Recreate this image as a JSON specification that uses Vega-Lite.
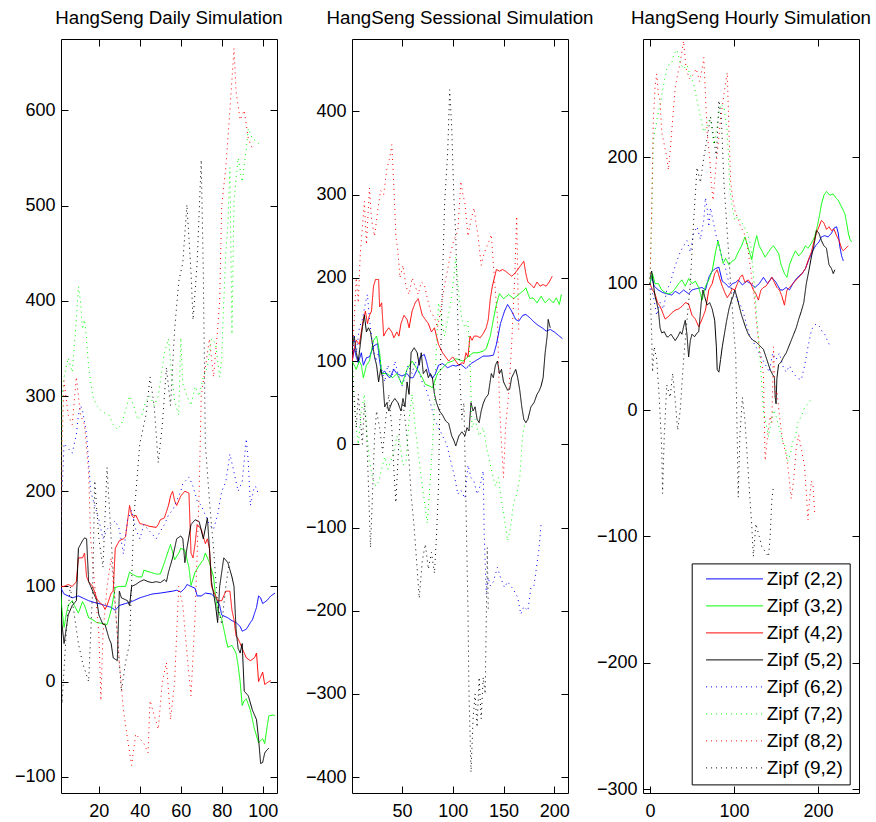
{
"$schema": "https://vega.github.io/schema/vega-lite/v6.json",
"background": "white",
"padding": {"left": 13, "top": 8, "right": 5, "bottom": 5},
"config": {
  "font": "Liberation Sans",
  "view": {"stroke": "black", "strokeWidth": 1},
  "axis": {"grid": false, "domain": false, "tickColor": "black", "tickWidth": 1, "tickSize": -7, "labelPadding": 13, "labelFontSize": 18, "labelColor": "black", "title": null, "labelFont": "Liberation Sans"},
  "axisX": {"labelPadding": 16},
  "title": {"fontSize": 18.7, "fontWeight": "normal", "font": "Liberation Sans", "offset": 11, "baseline": "alphabetic", "color": "black"},
  "legend": {"orient": "none", "legendX": 48.7, "legendY": 524.4, "title": null}
},
"datasets": {
"d": [
{"s":"2","x":1,"y":100},{"s":"2","x":3,"y":92},{"s":"2","x":5,"y":90},{"s":"2","x":7,"y":88},{"s":"2","x":10,"y":90},{"s":"2","x":12,"y":88},{"s":"2","x":15,"y":85},{"s":"2","x":18,"y":83},{"s":"2","x":20,"y":82},{"s":"2","x":23,"y":80},{"s":"2","x":26,"y":78},{"s":"2","x":28,"y":75},{"s":"2","x":30,"y":80},{"s":"2","x":33,"y":82},{"s":"2","x":36,"y":84},{"s":"2","x":40,"y":88},{"s":"2","x":43,"y":90},{"s":"2","x":46,"y":92},{"s":"2","x":50,"y":93},{"s":"2","x":53,"y":94},{"s":"2","x":56,"y":95},{"s":"2","x":58,"y":96},{"s":"2","x":60,"y":94},{"s":"2","x":62,"y":98},{"s":"2","x":63,"y":102},{"s":"2","x":65,"y":100},{"s":"2","x":67,"y":98},{"s":"2","x":68,"y":90},{"s":"2","x":70,"y":90},{"s":"2","x":72,"y":93},{"s":"2","x":75,"y":92},{"s":"2","x":77,"y":88},{"s":"2","x":79,"y":80},{"s":"2","x":80,"y":70},{"s":"2","x":83,"y":67},{"s":"2","x":85,"y":64},{"s":"2","x":87,"y":62},{"s":"2","x":89,"y":58},{"s":"2","x":90,"y":53},{"s":"2","x":92,"y":55},{"s":"2","x":94,"y":62},{"s":"2","x":95,"y":65},{"s":"2","x":97,"y":78},{"s":"2","x":98,"y":90},{"s":"2","x":99,"y":88},{"s":"2","x":100,"y":82},{"s":"2","x":102,"y":85},{"s":"2","x":104,"y":90},{"s":"2","x":106,"y":93},
{"s":"3","x":1,"y":100},{"s":"3","x":2,"y":75},{"s":"3","x":3,"y":57},{"s":"3","x":4,"y":70},{"s":"3","x":5,"y":80},{"s":"3","x":7,"y":85},{"s":"3","x":8,"y":80},{"s":"3","x":10,"y":72},{"s":"3","x":12,"y":84},{"s":"3","x":13,"y":80},{"s":"3","x":15,"y":67},{"s":"3","x":17,"y":65},{"s":"3","x":19,"y":62},{"s":"3","x":22,"y":61},{"s":"3","x":24,"y":60},{"s":"3","x":26,"y":75},{"s":"3","x":28,"y":99},{"s":"3","x":30,"y":100},{"s":"3","x":33,"y":100},{"s":"3","x":35,"y":115},{"s":"3","x":37,"y":112},{"s":"3","x":39,"y":110},{"s":"3","x":41,"y":110},{"s":"3","x":42,"y":117},{"s":"3","x":45,"y":115},{"s":"3","x":48,"y":113},{"s":"3","x":50,"y":113},{"s":"3","x":52,"y":125},{"s":"3","x":54,"y":138},{"s":"3","x":55,"y":144},{"s":"3","x":57,"y":128},{"s":"3","x":59,"y":135},{"s":"3","x":60,"y":140},{"s":"3","x":62,"y":138},{"s":"3","x":64,"y":120},{"s":"3","x":65,"y":101},{"s":"3","x":67,"y":115},{"s":"3","x":69,"y":122},{"s":"3","x":71,"y":128},{"s":"3","x":72,"y":135},{"s":"3","x":74,"y":125},{"s":"3","x":76,"y":110},{"s":"3","x":77,"y":90},{"s":"3","x":78,"y":75},{"s":"3","x":80,"y":66},{"s":"3","x":82,"y":45},{"s":"3","x":83,"y":36},{"s":"3","x":85,"y":38},{"s":"3","x":87,"y":30},{"s":"3","x":88,"y":17},{"s":"3","x":89,"y":0},{"s":"3","x":90,"y":-25},{"s":"3","x":91,"y":-20},{"s":"3","x":92,"y":-18},{"s":"3","x":94,"y":-30},{"s":"3","x":96,"y":-50},{"s":"3","x":98,"y":-64},{"s":"3","x":100,"y":-60},{"s":"3","x":101,"y":-65},{"s":"3","x":102,"y":-50},{"s":"3","x":103,"y":-36},{"s":"3","x":105,"y":-35},{"s":"3","x":106,"y":-36},
{"s":"4","x":1,"y":100},{"s":"4","x":3,"y":100},{"s":"4","x":5,"y":102},{"s":"4","x":7,"y":100},{"s":"4","x":9,"y":105},{"s":"4","x":10,"y":130},{"s":"4","x":12,"y":130},{"s":"4","x":13,"y":135},{"s":"4","x":14,"y":110},{"s":"4","x":15,"y":105},{"s":"4","x":17,"y":100},{"s":"4","x":19,"y":87},{"s":"4","x":20,"y":84},{"s":"4","x":22,"y":80},{"s":"4","x":23,"y":76},{"s":"4","x":24,"y":80},{"s":"4","x":26,"y":93},{"s":"4","x":27,"y":95},{"s":"4","x":28,"y":140},{"s":"4","x":30,"y":148},{"s":"4","x":32,"y":150},{"s":"4","x":33,"y":152},{"s":"4","x":35,"y":185},{"s":"4","x":36,"y":175},{"s":"4","x":37,"y":172},{"s":"4","x":38,"y":175},{"s":"4","x":40,"y":166},{"s":"4","x":42,"y":165},{"s":"4","x":45,"y":163},{"s":"4","x":48,"y":162},{"s":"4","x":49,"y":165},{"s":"4","x":50,"y":170},{"s":"4","x":52,"y":172},{"s":"4","x":54,"y":185},{"s":"4","x":55,"y":195},{"s":"4","x":56,"y":200},{"s":"4","x":57,"y":190},{"s":"4","x":58,"y":185},{"s":"4","x":60,"y":195},{"s":"4","x":62,"y":200},{"s":"4","x":64,"y":198},{"s":"4","x":65,"y":135},{"s":"4","x":66,"y":130},{"s":"4","x":67,"y":145},{"s":"4","x":68,"y":165},{"s":"4","x":70,"y":160},{"s":"4","x":72,"y":145},{"s":"4","x":73,"y":150},{"s":"4","x":74,"y":140},{"s":"4","x":75,"y":100},{"s":"4","x":77,"y":90},{"s":"4","x":78,"y":85},{"s":"4","x":80,"y":85},{"s":"4","x":82,"y":95},{"s":"4","x":84,"y":95},{"s":"4","x":85,"y":75},{"s":"4","x":86,"y":65},{"s":"4","x":87,"y":48},{"s":"4","x":88,"y":45},{"s":"4","x":89,"y":40},{"s":"4","x":90,"y":35},{"s":"4","x":92,"y":25},{"s":"4","x":94,"y":22},{"s":"4","x":96,"y":25},{"s":"4","x":97,"y":30},{"s":"4","x":98,"y":0},{"s":"4","x":99,"y":5},{"s":"4","x":100,"y":10},{"s":"4","x":101,"y":-3},{"s":"4","x":103,"y":0},{"s":"4","x":104,"y":1},
{"s":"5","x":1,"y":90},{"s":"5","x":2,"y":60},{"s":"5","x":3,"y":40},{"s":"5","x":4,"y":55},{"s":"5","x":5,"y":70},{"s":"5","x":7,"y":80},{"s":"5","x":9,"y":85},{"s":"5","x":10,"y":140},{"s":"5","x":12,"y":148},{"s":"5","x":13,"y":151},{"s":"5","x":14,"y":150},{"s":"5","x":15,"y":105},{"s":"5","x":16,"y":100},{"s":"5","x":17,"y":95},{"s":"5","x":19,"y":85},{"s":"5","x":20,"y":70},{"s":"5","x":22,"y":60},{"s":"5","x":23,"y":60},{"s":"5","x":25,"y":45},{"s":"5","x":26,"y":40},{"s":"5","x":27,"y":25},{"s":"5","x":29,"y":22},{"s":"5","x":30,"y":95},{"s":"5","x":31,"y":88},{"s":"5","x":33,"y":86},{"s":"5","x":34,"y":85},{"s":"5","x":35,"y":80},{"s":"5","x":36,"y":100},{"s":"5","x":38,"y":102},{"s":"5","x":40,"y":105},{"s":"5","x":42,"y":107},{"s":"5","x":44,"y":105},{"s":"5","x":46,"y":104},{"s":"5","x":48,"y":105},{"s":"5","x":50,"y":104},{"s":"5","x":52,"y":107},{"s":"5","x":53,"y":105},{"s":"5","x":54,"y":115},{"s":"5","x":56,"y":130},{"s":"5","x":58,"y":150},{"s":"5","x":60,"y":153},{"s":"5","x":61,"y":150},{"s":"5","x":62,"y":125},{"s":"5","x":63,"y":140},{"s":"5","x":65,"y":165},{"s":"5","x":67,"y":170},{"s":"5","x":69,"y":168},{"s":"5","x":71,"y":150},{"s":"5","x":73,"y":172},{"s":"5","x":74,"y":140},{"s":"5","x":75,"y":105},{"s":"5","x":77,"y":80},{"s":"5","x":78,"y":62},{"s":"5","x":79,"y":100},{"s":"5","x":81,"y":130},{"s":"5","x":83,"y":125},{"s":"5","x":85,"y":110},{"s":"5","x":86,"y":100},{"s":"5","x":87,"y":55},{"s":"5","x":88,"y":35},{"s":"5","x":89,"y":30},{"s":"5","x":90,"y":40},{"s":"5","x":91,"y":-10},{"s":"5","x":93,"y":-15},{"s":"5","x":95,"y":-30},{"s":"5","x":97,"y":-40},{"s":"5","x":98,"y":-60},{"s":"5","x":99,"y":-86},{"s":"5","x":100,"y":-85},{"s":"5","x":101,"y":-75},{"s":"5","x":102,"y":-72},{"s":"5","x":103,"y":-70},
{"s":"6","x":1,"y":100},{"s":"6","x":2,"y":200},{"s":"6","x":3,"y":250},{"s":"6","x":5,"y":245},{"s":"6","x":7,"y":240},{"s":"6","x":9,"y":260},{"s":"6","x":10,"y":280},{"s":"6","x":11,"y":290},{"s":"6","x":12,"y":285},{"s":"6","x":14,"y":260},{"s":"6","x":15,"y":230},{"s":"6","x":16,"y":200},{"s":"6","x":18,"y":185},{"s":"6","x":20,"y":170},{"s":"6","x":22,"y":150},{"s":"6","x":24,"y":160},{"s":"6","x":26,"y":165},{"s":"6","x":28,"y":169},{"s":"6","x":30,"y":160},{"s":"6","x":32,"y":134},{"s":"6","x":34,"y":170},{"s":"6","x":36,"y":180},{"s":"6","x":38,"y":160},{"s":"6","x":40,"y":150},{"s":"6","x":42,"y":165},{"s":"6","x":44,"y":160},{"s":"6","x":46,"y":155},{"s":"6","x":48,"y":150},{"s":"6","x":50,"y":158},{"s":"6","x":52,"y":165},{"s":"6","x":54,"y":175},{"s":"6","x":56,"y":180},{"s":"6","x":58,"y":190},{"s":"6","x":60,"y":200},{"s":"6","x":61,"y":208},{"s":"6","x":62,"y":210},{"s":"6","x":64,"y":215},{"s":"6","x":66,"y":205},{"s":"6","x":68,"y":190},{"s":"6","x":70,"y":185},{"s":"6","x":72,"y":175},{"s":"6","x":74,"y":165},{"s":"6","x":76,"y":160},{"s":"6","x":78,"y":175},{"s":"6","x":80,"y":200},{"s":"6","x":82,"y":210},{"s":"6","x":84,"y":239},{"s":"6","x":86,"y":220},{"s":"6","x":88,"y":200},{"s":"6","x":90,"y":210},{"s":"6","x":92,"y":255},{"s":"6","x":93,"y":230},{"s":"6","x":94,"y":185},{"s":"6","x":96,"y":205},{"s":"6","x":97,"y":204},{"s":"6","x":98,"y":195},
{"s":"7","x":1,"y":100},{"s":"7","x":2,"y":300},{"s":"7","x":3,"y":320},{"s":"7","x":5,"y":340},{"s":"7","x":7,"y":325},{"s":"7","x":9,"y":380},{"s":"7","x":10,"y":415},{"s":"7","x":11,"y":400},{"s":"7","x":12,"y":370},{"s":"7","x":13,"y":380},{"s":"7","x":14,"y":360},{"s":"7","x":15,"y":330},{"s":"7","x":17,"y":300},{"s":"7","x":19,"y":290},{"s":"7","x":21,"y":285},{"s":"7","x":23,"y":282},{"s":"7","x":25,"y":280},{"s":"7","x":27,"y":270},{"s":"7","x":29,"y":265},{"s":"7","x":31,"y":270},{"s":"7","x":33,"y":285},{"s":"7","x":35,"y":300},{"s":"7","x":37,"y":290},{"s":"7","x":39,"y":275},{"s":"7","x":41,"y":280},{"s":"7","x":43,"y":295},{"s":"7","x":45,"y":300},{"s":"7","x":47,"y":290},{"s":"7","x":49,"y":300},{"s":"7","x":51,"y":330},{"s":"7","x":52,"y":345},{"s":"7","x":54,"y":360},{"s":"7","x":55,"y":335},{"s":"7","x":57,"y":295},{"s":"7","x":59,"y":280},{"s":"7","x":60,"y":361},{"s":"7","x":61,"y":313},{"s":"7","x":63,"y":300},{"s":"7","x":65,"y":290},{"s":"7","x":67,"y":310},{"s":"7","x":69,"y":300},{"s":"7","x":71,"y":320},{"s":"7","x":73,"y":330},{"s":"7","x":75,"y":360},{"s":"7","x":77,"y":355},{"s":"7","x":79,"y":320},{"s":"7","x":80,"y":340},{"s":"7","x":81,"y":400},{"s":"7","x":82,"y":450},{"s":"7","x":83,"y":480},{"s":"7","x":84,"y":540},{"s":"7","x":85,"y":365},{"s":"7","x":86,"y":505},{"s":"7","x":88,"y":550},{"s":"7","x":90,"y":525},{"s":"7","x":92,"y":560},{"s":"7","x":93,"y":581},{"s":"7","x":95,"y":570},{"s":"7","x":97,"y":568},{"s":"7","x":98,"y":565},
{"s":"8","x":1,"y":100},{"s":"8","x":2,"y":250},{"s":"8","x":3,"y":316},{"s":"8","x":5,"y":280},{"s":"8","x":7,"y":270},{"s":"8","x":9,"y":320},{"s":"8","x":11,"y":280},{"s":"8","x":13,"y":270},{"s":"8","x":15,"y":220},{"s":"8","x":16,"y":150},{"s":"8","x":18,"y":100},{"s":"8","x":20,"y":50},{"s":"8","x":21,"y":-20},{"s":"8","x":22,"y":50},{"s":"8","x":24,"y":100},{"s":"8","x":26,"y":130},{"s":"8","x":28,"y":80},{"s":"8","x":30,"y":20},{"s":"8","x":32,"y":-30},{"s":"8","x":34,"y":-60},{"s":"8","x":36,"y":-88},{"s":"8","x":38,"y":-55},{"s":"8","x":40,"y":-60},{"s":"8","x":42,"y":-65},{"s":"8","x":44,"y":-75},{"s":"8","x":45,"y":-20},{"s":"8","x":47,"y":-35},{"s":"8","x":49,"y":-50},{"s":"8","x":51,"y":0},{"s":"8","x":53,"y":20},{"s":"8","x":55,"y":-40},{"s":"8","x":57,"y":0},{"s":"8","x":59,"y":100},{"s":"8","x":61,"y":80},{"s":"8","x":63,"y":30},{"s":"8","x":65,"y":-15},{"s":"8","x":67,"y":70},{"s":"8","x":69,"y":200},{"s":"8","x":70,"y":300},{"s":"8","x":72,"y":330},{"s":"8","x":74,"y":360},{"s":"8","x":76,"y":320},{"s":"8","x":78,"y":370},{"s":"8","x":79,"y":400},{"s":"8","x":80,"y":500},{"s":"8","x":82,"y":540},{"s":"8","x":84,"y":600},{"s":"8","x":86,"y":665},{"s":"8","x":87,"y":620},{"s":"8","x":89,"y":590},{"s":"8","x":91,"y":600},{"s":"8","x":93,"y":570},{"s":"8","x":95,"y":560},
{"s":"9","x":1,"y":100},{"s":"9","x":2,"y":-23},{"s":"9","x":4,"y":50},{"s":"9","x":6,"y":100},{"s":"9","x":8,"y":70},{"s":"9","x":10,"y":40},{"s":"9","x":12,"y":20},{"s":"9","x":15,"y":0},{"s":"9","x":17,"y":100},{"s":"9","x":18,"y":211},{"s":"9","x":20,"y":150},{"s":"9","x":22,"y":120},{"s":"9","x":24,"y":225},{"s":"9","x":26,"y":150},{"s":"9","x":28,"y":80},{"s":"9","x":30,"y":20},{"s":"9","x":31,"y":-10},{"s":"9","x":33,"y":20},{"s":"9","x":35,"y":40},{"s":"9","x":37,"y":170},{"s":"9","x":40,"y":250},{"s":"9","x":43,"y":280},{"s":"9","x":45,"y":320},{"s":"9","x":47,"y":290},{"s":"9","x":49,"y":230},{"s":"9","x":51,"y":270},{"s":"9","x":53,"y":330},{"s":"9","x":55,"y":290},{"s":"9","x":57,"y":370},{"s":"9","x":59,"y":420},{"s":"9","x":61,"y":440},{"s":"9","x":63,"y":501},{"s":"9","x":65,"y":430},{"s":"9","x":66,"y":380},{"s":"9","x":68,"y":440},{"s":"9","x":70,"y":548},{"s":"9","x":71,"y":430},{"s":"9","x":72,"y":250},{"s":"9","x":74,"y":190},{"s":"9","x":76,"y":140},{"s":"9","x":78,"y":80},{"s":"9","x":80,"y":60},{"s":"9","x":82,"y":100},{"s":"9","x":84,"y":130}
],
"s": [
{"s":"2","x":1,"y":100},{"s":"2","x":3,"y":115},{"s":"2","x":5,"y":105},{"s":"2","x":7,"y":98},{"s":"2","x":10,"y":110},{"s":"2","x":12,"y":95},{"s":"2","x":15,"y":104},{"s":"2","x":18,"y":105},{"s":"2","x":22,"y":118},{"s":"2","x":26,"y":121},{"s":"2","x":28,"y":100},{"s":"2","x":30,"y":85},{"s":"2","x":33,"y":88},{"s":"2","x":36,"y":82},{"s":"2","x":38,"y":80},{"s":"2","x":42,"y":90},{"s":"2","x":45,"y":85},{"s":"2","x":50,"y":82},{"s":"2","x":55,"y":85},{"s":"2","x":58,"y":80},{"s":"2","x":61,"y":80},{"s":"2","x":65,"y":90},{"s":"2","x":68,"y":105},{"s":"2","x":72,"y":108},{"s":"2","x":74,"y":100},{"s":"2","x":77,"y":85},{"s":"2","x":80,"y":79},{"s":"2","x":83,"y":85},{"s":"2","x":86,"y":95},{"s":"2","x":90,"y":97},{"s":"2","x":95,"y":92},{"s":"2","x":100,"y":95},{"s":"2","x":103,"y":94},{"s":"2","x":108,"y":96},{"s":"2","x":113,"y":91},{"s":"2","x":118,"y":97},{"s":"2","x":122,"y":100},{"s":"2","x":126,"y":103},{"s":"2","x":130,"y":106},{"s":"2","x":135,"y":106},{"s":"2","x":140,"y":107},{"s":"2","x":143,"y":120},{"s":"2","x":147,"y":145},{"s":"2","x":151,"y":160},{"s":"2","x":154,"y":168},{"s":"2","x":158,"y":160},{"s":"2","x":162,"y":150},{"s":"2","x":165,"y":148},{"s":"2","x":169,"y":155},{"s":"2","x":172,"y":156},{"s":"2","x":176,"y":152},{"s":"2","x":180,"y":147},{"s":"2","x":184,"y":143},{"s":"2","x":188,"y":140},{"s":"2","x":192,"y":136},{"s":"2","x":196,"y":138},{"s":"2","x":200,"y":135},{"s":"2","x":204,"y":131},{"s":"2","x":208,"y":127},
{"s":"3","x":1,"y":100},{"s":"3","x":3,"y":95},{"s":"3","x":5,"y":90},{"s":"3","x":8,"y":100},{"s":"3","x":10,"y":95},{"s":"3","x":12,"y":80},{"s":"3","x":15,"y":95},{"s":"3","x":18,"y":100},{"s":"3","x":22,"y":125},{"s":"3","x":25,"y":130},{"s":"3","x":28,"y":110},{"s":"3","x":30,"y":85},{"s":"3","x":35,"y":85},{"s":"3","x":41,"y":80},{"s":"3","x":45,"y":85},{"s":"3","x":50,"y":72},{"s":"3","x":55,"y":90},{"s":"3","x":60,"y":100},{"s":"3","x":65,"y":90},{"s":"3","x":70,"y":80},{"s":"3","x":73,"y":72},{"s":"3","x":77,"y":70},{"s":"3","x":80,"y":68},{"s":"3","x":85,"y":85},{"s":"3","x":90,"y":92},{"s":"3","x":95,"y":98},{"s":"3","x":100,"y":100},{"s":"3","x":103,"y":103},{"s":"3","x":110,"y":100},{"s":"3","x":115,"y":105},{"s":"3","x":120,"y":110},{"s":"3","x":125,"y":110},{"s":"3","x":130,"y":112},{"s":"3","x":133,"y":115},{"s":"3","x":137,"y":130},{"s":"3","x":140,"y":150},{"s":"3","x":143,"y":168},{"s":"3","x":146,"y":181},{"s":"3","x":150,"y":175},{"s":"3","x":155,"y":180},{"s":"3","x":160,"y":175},{"s":"3","x":165,"y":180},{"s":"3","x":170,"y":185},{"s":"3","x":172,"y":188},{"s":"3","x":176,"y":175},{"s":"3","x":179,"y":176},{"s":"3","x":183,"y":170},{"s":"3","x":187,"y":178},{"s":"3","x":191,"y":170},{"s":"3","x":195,"y":175},{"s":"3","x":199,"y":170},{"s":"3","x":202,"y":176},{"s":"3","x":205,"y":168},{"s":"3","x":207,"y":180},
{"s":"4","x":1,"y":100},{"s":"4","x":3,"y":115},{"s":"4","x":5,"y":125},{"s":"4","x":8,"y":120},{"s":"4","x":10,"y":135},{"s":"4","x":12,"y":150},{"s":"4","x":14,"y":160},{"s":"4","x":16,"y":145},{"s":"4","x":18,"y":155},{"s":"4","x":20,"y":160},{"s":"4","x":22,"y":190},{"s":"4","x":24,"y":198},{"s":"4","x":27,"y":198},{"s":"4","x":28,"y":165},{"s":"4","x":30,"y":170},{"s":"4","x":32,"y":130},{"s":"4","x":34,"y":135},{"s":"4","x":37,"y":140},{"s":"4","x":40,"y":135},{"s":"4","x":42,"y":128},{"s":"4","x":45,"y":135},{"s":"4","x":47,"y":130},{"s":"4","x":49,"y":145},{"s":"4","x":52,"y":155},{"s":"4","x":55,"y":150},{"s":"4","x":57,"y":140},{"s":"4","x":60,"y":160},{"s":"4","x":63,"y":170},{"s":"4","x":66,"y":175},{"s":"4","x":68,"y":165},{"s":"4","x":70,"y":155},{"s":"4","x":73,"y":150},{"s":"4","x":76,"y":145},{"s":"4","x":79,"y":135},{"s":"4","x":82,"y":140},{"s":"4","x":84,"y":130},{"s":"4","x":86,"y":120},{"s":"4","x":90,"y":110},{"s":"4","x":93,"y":105},{"s":"4","x":96,"y":100},{"s":"4","x":100,"y":105},{"s":"4","x":103,"y":100},{"s":"4","x":106,"y":95},{"s":"4","x":109,"y":98},{"s":"4","x":111,"y":97},{"s":"4","x":113,"y":110},{"s":"4","x":115,"y":105},{"s":"4","x":117,"y":130},{"s":"4","x":119,"y":125},{"s":"4","x":121,"y":130},{"s":"4","x":124,"y":130},{"s":"4","x":127,"y":128},{"s":"4","x":130,"y":133},{"s":"4","x":133,"y":140},{"s":"4","x":135,"y":150},{"s":"4","x":137,"y":175},{"s":"4","x":139,"y":190},{"s":"4","x":141,"y":200},{"s":"4","x":143,"y":210},{"s":"4","x":146,"y":208},{"s":"4","x":149,"y":210},{"s":"4","x":152,"y":208},{"s":"4","x":155,"y":205},{"s":"4","x":158,"y":202},{"s":"4","x":161,"y":205},{"s":"4","x":164,"y":210},{"s":"4","x":167,"y":215},{"s":"4","x":170,"y":220},{"s":"4","x":172,"y":205},{"s":"4","x":174,"y":195},{"s":"4","x":177,"y":192},{"s":"4","x":180,"y":188},{"s":"4","x":183,"y":195},{"s":"4","x":186,"y":190},{"s":"4","x":189,"y":192},{"s":"4","x":192,"y":190},{"s":"4","x":195,"y":195},{"s":"4","x":198,"y":202},
{"s":"5","x":1,"y":115},{"s":"5","x":3,"y":130},{"s":"5","x":5,"y":110},{"s":"5","x":7,"y":100},{"s":"5","x":9,"y":120},{"s":"5","x":11,"y":140},{"s":"5","x":13,"y":155},{"s":"5","x":15,"y":135},{"s":"5","x":17,"y":140},{"s":"5","x":19,"y":135},{"s":"5","x":21,"y":120},{"s":"5","x":23,"y":105},{"s":"5","x":25,"y":95},{"s":"5","x":27,"y":75},{"s":"5","x":29,"y":90},{"s":"5","x":31,"y":80},{"s":"5","x":33,"y":45},{"s":"5","x":35,"y":50},{"s":"5","x":37,"y":40},{"s":"5","x":40,"y":50},{"s":"5","x":43,"y":55},{"s":"5","x":46,"y":50},{"s":"5","x":49,"y":40},{"s":"5","x":51,"y":55},{"s":"5","x":53,"y":45},{"s":"5","x":55,"y":75},{"s":"5","x":57,"y":60},{"s":"5","x":59,"y":110},{"s":"5","x":62,"y":116},{"s":"5","x":65,"y":110},{"s":"5","x":67,"y":95},{"s":"5","x":69,"y":110},{"s":"5","x":71,"y":85},{"s":"5","x":74,"y":90},{"s":"5","x":76,"y":80},{"s":"5","x":78,"y":85},{"s":"5","x":80,"y":80},{"s":"5","x":82,"y":60},{"s":"5","x":84,"y":50},{"s":"5","x":87,"y":40},{"s":"5","x":90,"y":35},{"s":"5","x":93,"y":28},{"s":"5","x":96,"y":25},{"s":"5","x":99,"y":10},{"s":"5","x":101,"y":5},{"s":"5","x":103,"y":-2},{"s":"5","x":106,"y":10},{"s":"5","x":109,"y":15},{"s":"5","x":112,"y":10},{"s":"5","x":114,"y":20},{"s":"5","x":116,"y":16},{"s":"5","x":118,"y":50},{"s":"5","x":120,"y":40},{"s":"5","x":122,"y":45},{"s":"5","x":124,"y":30},{"s":"5","x":126,"y":26},{"s":"5","x":128,"y":40},{"s":"5","x":130,"y":49},{"s":"5","x":132,"y":55},{"s":"5","x":135,"y":60},{"s":"5","x":138,"y":85},{"s":"5","x":140,"y":80},{"s":"5","x":142,"y":95},{"s":"5","x":144,"y":100},{"s":"5","x":146,"y":85},{"s":"5","x":148,"y":90},{"s":"5","x":150,"y":75},{"s":"5","x":152,"y":70},{"s":"5","x":154,"y":65},{"s":"5","x":156,"y":66},{"s":"5","x":158,"y":80},{"s":"5","x":160,"y":85},{"s":"5","x":162,"y":90},{"s":"5","x":164,"y":80},{"s":"5","x":166,"y":65},{"s":"5","x":168,"y":45},{"s":"5","x":170,"y":30},{"s":"5","x":172,"y":26},{"s":"5","x":174,"y":30},{"s":"5","x":177,"y":45},{"s":"5","x":180,"y":50},{"s":"5","x":183,"y":60},{"s":"5","x":185,"y":64},{"s":"5","x":187,"y":70},{"s":"5","x":189,"y":80},{"s":"5","x":191,"y":110},{"s":"5","x":193,"y":130},{"s":"5","x":194,"y":150},{"s":"5","x":196,"y":140},
{"s":"6","x":1,"y":100},{"s":"6","x":3,"y":130},{"s":"6","x":5,"y":110},{"s":"6","x":8,"y":140},{"s":"6","x":11,"y":150},{"s":"6","x":14,"y":170},{"s":"6","x":16,"y":180},{"s":"6","x":18,"y":150},{"s":"6","x":21,"y":120},{"s":"6","x":24,"y":100},{"s":"6","x":27,"y":110},{"s":"6","x":30,"y":90},{"s":"6","x":33,"y":75},{"s":"6","x":36,"y":95},{"s":"6","x":40,"y":80},{"s":"6","x":43,"y":100},{"s":"6","x":46,"y":85},{"s":"6","x":50,"y":70},{"s":"6","x":53,"y":80},{"s":"6","x":56,"y":95},{"s":"6","x":60,"y":85},{"s":"6","x":63,"y":100},{"s":"6","x":66,"y":90},{"s":"6","x":70,"y":75},{"s":"6","x":74,"y":65},{"s":"6","x":78,"y":50},{"s":"6","x":82,"y":30},{"s":"6","x":86,"y":20},{"s":"6","x":90,"y":10},{"s":"6","x":94,"y":0},{"s":"6","x":98,"y":-20},{"s":"6","x":102,"y":-40},{"s":"6","x":105,"y":-60},{"s":"6","x":108,"y":-55},{"s":"6","x":112,"y":-65},{"s":"6","x":115,"y":-25},{"s":"6","x":118,"y":-40},{"s":"6","x":121,"y":-45},{"s":"6","x":124,"y":-60},{"s":"6","x":127,"y":-50},{"s":"6","x":130,"y":-32},{"s":"6","x":131,"y":-108},{"s":"6","x":133,"y":-180},{"s":"6","x":135,"y":-160},{"s":"6","x":137,"y":-170},{"s":"6","x":140,"y":-165},{"s":"6","x":144,"y":-148},{"s":"6","x":147,"y":-160},{"s":"6","x":151,"y":-172},{"s":"6","x":154,"y":-165},{"s":"6","x":157,"y":-170},{"s":"6","x":160,"y":-175},{"s":"6","x":164,"y":-184},{"s":"6","x":167,"y":-204},{"s":"6","x":170,"y":-195},{"s":"6","x":174,"y":-200},{"s":"6","x":177,"y":-172},{"s":"6","x":180,"y":-170},{"s":"6","x":182,"y":-152},{"s":"6","x":185,"y":-125},{"s":"6","x":187,"y":-96},
{"s":"7","x":1,"y":100},{"s":"7","x":3,"y":60},{"s":"7","x":5,"y":20},{"s":"7","x":7,"y":0},{"s":"7","x":10,"y":40},{"s":"7","x":13,"y":60},{"s":"7","x":15,"y":20},{"s":"7","x":18,"y":-20},{"s":"7","x":21,"y":-40},{"s":"7","x":24,"y":-50},{"s":"7","x":27,"y":-45},{"s":"7","x":30,"y":-30},{"s":"7","x":33,"y":-15},{"s":"7","x":36,"y":-30},{"s":"7","x":39,"y":-20},{"s":"7","x":42,"y":-10},{"s":"7","x":45,"y":10},{"s":"7","x":48,"y":0},{"s":"7","x":51,"y":-25},{"s":"7","x":54,"y":-20},{"s":"7","x":57,"y":30},{"s":"7","x":60,"y":60},{"s":"7","x":63,"y":20},{"s":"7","x":66,"y":-10},{"s":"7","x":69,"y":-40},{"s":"7","x":72,"y":-68},{"s":"7","x":75,"y":-95},{"s":"7","x":78,"y":-40},{"s":"7","x":81,"y":20},{"s":"7","x":84,"y":120},{"s":"7","x":86,"y":170},{"s":"7","x":89,"y":150},{"s":"7","x":92,"y":130},{"s":"7","x":95,"y":150},{"s":"7","x":98,"y":170},{"s":"7","x":101,"y":200},{"s":"7","x":103,"y":225},{"s":"7","x":106,"y":180},{"s":"7","x":109,"y":150},{"s":"7","x":112,"y":140},{"s":"7","x":115,"y":148},{"s":"7","x":117,"y":100},{"s":"7","x":119,"y":20},{"s":"7","x":122,"y":30},{"s":"7","x":126,"y":10},{"s":"7","x":130,"y":20},{"s":"7","x":134,"y":-8},{"s":"7","x":138,"y":-30},{"s":"7","x":142,"y":-50},{"s":"7","x":145,"y":-40},{"s":"7","x":148,"y":-68},{"s":"7","x":151,"y":-90},{"s":"7","x":154,"y":-116},{"s":"7","x":157,"y":-100},{"s":"7","x":160,"y":-70},{"s":"7","x":163,"y":-60},{"s":"7","x":166,"y":-40},{"s":"7","x":169,"y":13},{"s":"7","x":171,"y":25},
{"s":"8","x":1,"y":100},{"s":"8","x":3,"y":150},{"s":"8","x":5,"y":200},{"s":"8","x":7,"y":170},{"s":"8","x":9,"y":230},{"s":"8","x":11,"y":260},{"s":"8","x":13,"y":292},{"s":"8","x":15,"y":240},{"s":"8","x":18,"y":308},{"s":"8","x":20,"y":270},{"s":"8","x":23,"y":250},{"s":"8","x":26,"y":280},{"s":"8","x":29,"y":305},{"s":"8","x":32,"y":300},{"s":"8","x":35,"y":330},{"s":"8","x":38,"y":345},{"s":"8","x":40,"y":360},{"s":"8","x":42,"y":310},{"s":"8","x":44,"y":250},{"s":"8","x":46,"y":232},{"s":"8","x":48,"y":200},{"s":"8","x":51,"y":215},{"s":"8","x":54,"y":190},{"s":"8","x":57,"y":180},{"s":"8","x":60,"y":200},{"s":"8","x":63,"y":190},{"s":"8","x":66,"y":180},{"s":"8","x":69,"y":195},{"s":"8","x":72,"y":192},{"s":"8","x":75,"y":175},{"s":"8","x":78,"y":160},{"s":"8","x":82,"y":152},{"s":"8","x":85,"y":140},{"s":"8","x":88,"y":160},{"s":"8","x":92,"y":192},{"s":"8","x":95,"y":210},{"s":"8","x":98,"y":230},{"s":"8","x":101,"y":245},{"s":"8","x":105,"y":256},{"s":"8","x":108,"y":316},{"s":"8","x":110,"y":300},{"s":"8","x":112,"y":290},{"s":"8","x":115,"y":250},{"s":"8","x":118,"y":270},{"s":"8","x":121,"y":284},{"s":"8","x":123,"y":265},{"s":"8","x":125,"y":250},{"s":"8","x":128,"y":215},{"s":"8","x":131,"y":230},{"s":"8","x":133,"y":236},{"s":"8","x":136,"y":245},{"s":"8","x":138,"y":252},{"s":"8","x":141,"y":200},{"s":"8","x":144,"y":152},{"s":"8","x":146,"y":50},{"s":"8","x":148,"y":0},{"s":"8","x":150,"y":-40},{"s":"8","x":152,"y":20},{"s":"8","x":155,"y":60},{"s":"8","x":158,"y":120},{"s":"8","x":161,"y":200},{"s":"8","x":163,"y":274},{"s":"8","x":165,"y":133},
{"s":"9","x":1,"y":100},{"s":"9","x":3,"y":50},{"s":"9","x":5,"y":20},{"s":"9","x":7,"y":60},{"s":"9","x":9,"y":30},{"s":"9","x":11,"y":0},{"s":"9","x":13,"y":50},{"s":"9","x":15,"y":20},{"s":"9","x":17,"y":-50},{"s":"9","x":19,"y":-124},{"s":"9","x":21,"y":-60},{"s":"9","x":23,"y":10},{"s":"9","x":25,"y":40},{"s":"9","x":28,"y":20},{"s":"9","x":31,"y":-10},{"s":"9","x":34,"y":30},{"s":"9","x":37,"y":60},{"s":"9","x":40,"y":20},{"s":"9","x":42,"y":-30},{"s":"9","x":44,"y":-70},{"s":"9","x":46,"y":-20},{"s":"9","x":48,"y":30},{"s":"9","x":51,"y":50},{"s":"9","x":54,"y":20},{"s":"9","x":57,"y":-20},{"s":"9","x":59,"y":-60},{"s":"9","x":62,"y":-100},{"s":"9","x":65,"y":-150},{"s":"9","x":67,"y":-185},{"s":"9","x":70,"y":-140},{"s":"9","x":73,"y":-120},{"s":"9","x":76,"y":-150},{"s":"9","x":79,"y":-130},{"s":"9","x":82,"y":-155},{"s":"9","x":84,"y":-110},{"s":"9","x":86,"y":-50},{"s":"9","x":88,"y":100},{"s":"9","x":90,"y":200},{"s":"9","x":92,"y":290},{"s":"9","x":95,"y":350},{"s":"9","x":97,"y":426},{"s":"9","x":99,"y":380},{"s":"9","x":101,"y":300},{"s":"9","x":103,"y":250},{"s":"9","x":105,"y":150},{"s":"9","x":107,"y":80},{"s":"9","x":109,"y":30},{"s":"9","x":111,"y":50},{"s":"9","x":113,"y":-70},{"s":"9","x":115,"y":-200},{"s":"9","x":116,"y":-300},{"s":"9","x":118,"y":-394},{"s":"9","x":120,"y":-330},{"s":"9","x":122,"y":-300},{"s":"9","x":124,"y":-340},{"s":"9","x":126,"y":-280},{"s":"9","x":128,"y":-330},{"s":"9","x":130,"y":-280},{"s":"9","x":132,"y":-300},{"s":"9","x":134,"y":-124},{"s":"9","x":135,"y":-200}
],
"h": [
{"s":"2","x":0,"y":100},{"s":"2","x":2,"y":106},{"s":"2","x":5,"y":98},{"s":"2","x":10,"y":95},{"s":"2","x":15,"y":93},{"s":"2","x":20,"y":92},{"s":"2","x":26,"y":91},{"s":"2","x":30,"y":94},{"s":"2","x":35,"y":92},{"s":"2","x":40,"y":95},{"s":"2","x":46,"y":92},{"s":"2","x":50,"y":95},{"s":"2","x":55,"y":96},{"s":"2","x":62,"y":97},{"s":"2","x":66,"y":95},{"s":"2","x":70,"y":105},{"s":"2","x":74,"y":110},{"s":"2","x":78,"y":112},{"s":"2","x":82,"y":113},{"s":"2","x":86,"y":102},{"s":"2","x":90,"y":100},{"s":"2","x":94,"y":97},{"s":"2","x":98,"y":100},{"s":"2","x":102,"y":101},{"s":"2","x":105,"y":103},{"s":"2","x":110,"y":99},{"s":"2","x":115,"y":102},{"s":"2","x":120,"y":100},{"s":"2","x":125,"y":97},{"s":"2","x":130,"y":100},{"s":"2","x":135,"y":105},{"s":"2","x":140,"y":100},{"s":"2","x":145,"y":105},{"s":"2","x":150,"y":101},{"s":"2","x":155,"y":95},{"s":"2","x":158,"y":95},{"s":"2","x":162,"y":97},{"s":"2","x":166,"y":95},{"s":"2","x":170,"y":100},{"s":"2","x":173,"y":103},{"s":"2","x":177,"y":106},{"s":"2","x":181,"y":108},{"s":"2","x":185,"y":112},{"s":"2","x":189,"y":119},{"s":"2","x":193,"y":125},{"s":"2","x":197,"y":130},{"s":"2","x":201,"y":133},{"s":"2","x":204,"y":137},{"s":"2","x":208,"y":138},{"s":"2","x":212,"y":137},{"s":"2","x":216,"y":140},{"s":"2","x":219,"y":144},{"s":"2","x":222,"y":145},{"s":"2","x":224,"y":140},{"s":"2","x":226,"y":129},{"s":"2","x":228,"y":122},{"s":"2","x":230,"y":118},
{"s":"3","x":0,"y":100},{"s":"3","x":3,"y":108},{"s":"3","x":6,"y":100},{"s":"3","x":10,"y":100},{"s":"3","x":14,"y":95},{"s":"3","x":18,"y":93},{"s":"3","x":22,"y":92},{"s":"3","x":26,"y":93},{"s":"3","x":30,"y":96},{"s":"3","x":34,"y":100},{"s":"3","x":38,"y":103},{"s":"3","x":42,"y":98},{"s":"3","x":46,"y":104},{"s":"3","x":50,"y":100},{"s":"3","x":54,"y":102},{"s":"3","x":58,"y":97},{"s":"3","x":62,"y":87},{"s":"3","x":66,"y":98},{"s":"3","x":70,"y":103},{"s":"3","x":74,"y":110},{"s":"3","x":78,"y":125},{"s":"3","x":81,"y":134},{"s":"3","x":84,"y":125},{"s":"3","x":87,"y":116},{"s":"3","x":90,"y":120},{"s":"3","x":94,"y":115},{"s":"3","x":98,"y":118},{"s":"3","x":101,"y":119},{"s":"3","x":105,"y":125},{"s":"3","x":109,"y":130},{"s":"3","x":113,"y":137},{"s":"3","x":117,"y":128},{"s":"3","x":121,"y":119},{"s":"3","x":124,"y":130},{"s":"3","x":127,"y":138},{"s":"3","x":130,"y":130},{"s":"3","x":134,"y":125},{"s":"3","x":137,"y":121},{"s":"3","x":141,"y":125},{"s":"3","x":144,"y":128},{"s":"3","x":147,"y":130},{"s":"3","x":150,"y":127},{"s":"3","x":153,"y":124},{"s":"3","x":156,"y":115},{"s":"3","x":160,"y":108},{"s":"3","x":163,"y":105},{"s":"3","x":166,"y":115},{"s":"3","x":169,"y":120},{"s":"3","x":173,"y":126},{"s":"3","x":177,"y":122},{"s":"3","x":181,"y":125},{"s":"3","x":185,"y":130},{"s":"3","x":188,"y":128},{"s":"3","x":192,"y":132},{"s":"3","x":196,"y":137},{"s":"3","x":199,"y":145},{"s":"3","x":202,"y":155},{"s":"3","x":204,"y":163},{"s":"3","x":207,"y":170},{"s":"3","x":210,"y":173},{"s":"3","x":214,"y":170},{"s":"3","x":218,"y":171},{"s":"3","x":221,"y":168},{"s":"3","x":224,"y":166},{"s":"3","x":227,"y":162},{"s":"3","x":230,"y":158},{"s":"3","x":232,"y":155},{"s":"3","x":234,"y":148},{"s":"3","x":236,"y":140},{"s":"3","x":238,"y":135},{"s":"3","x":240,"y":133},
{"s":"4","x":0,"y":100},{"s":"4","x":3,"y":95},{"s":"4","x":6,"y":92},{"s":"4","x":9,"y":85},{"s":"4","x":12,"y":82},{"s":"4","x":14,"y":79},{"s":"4","x":18,"y":72},{"s":"4","x":22,"y":74},{"s":"4","x":26,"y":77},{"s":"4","x":30,"y":79},{"s":"4","x":34,"y":80},{"s":"4","x":38,"y":82},{"s":"4","x":42,"y":85},{"s":"4","x":46,"y":84},{"s":"4","x":50,"y":75},{"s":"4","x":54,"y":72},{"s":"4","x":58,"y":66},{"s":"4","x":62,"y":72},{"s":"4","x":66,"y":79},{"s":"4","x":70,"y":95},{"s":"4","x":74,"y":100},{"s":"4","x":77,"y":108},{"s":"4","x":80,"y":111},{"s":"4","x":83,"y":104},{"s":"4","x":86,"y":98},{"s":"4","x":89,"y":93},{"s":"4","x":92,"y":89},{"s":"4","x":95,"y":92},{"s":"4","x":98,"y":96},{"s":"4","x":101,"y":95},{"s":"4","x":104,"y":100},{"s":"4","x":107,"y":105},{"s":"4","x":110,"y":107},{"s":"4","x":113,"y":101},{"s":"4","x":117,"y":103},{"s":"4","x":120,"y":100},{"s":"4","x":123,"y":95},{"s":"4","x":126,"y":92},{"s":"4","x":129,"y":87},{"s":"4","x":132,"y":95},{"s":"4","x":135,"y":97},{"s":"4","x":138,"y":98},{"s":"4","x":141,"y":101},{"s":"4","x":145,"y":105},{"s":"4","x":148,"y":101},{"s":"4","x":151,"y":97},{"s":"4","x":154,"y":95},{"s":"4","x":157,"y":90},{"s":"4","x":160,"y":83},{"s":"4","x":163,"y":95},{"s":"4","x":166,"y":97},{"s":"4","x":170,"y":100},{"s":"4","x":174,"y":103},{"s":"4","x":177,"y":105},{"s":"4","x":181,"y":108},{"s":"4","x":185,"y":112},{"s":"4","x":188,"y":118},{"s":"4","x":192,"y":125},{"s":"4","x":195,"y":133},{"s":"4","x":198,"y":140},{"s":"4","x":201,"y":145},{"s":"4","x":204,"y":150},{"s":"4","x":207,"y":148},{"s":"4","x":210,"y":143},{"s":"4","x":213,"y":145},{"s":"4","x":216,"y":142},{"s":"4","x":219,"y":143},{"s":"4","x":222,"y":138},{"s":"4","x":225,"y":134},{"s":"4","x":228,"y":128},{"s":"4","x":230,"y":126},{"s":"4","x":233,"y":128},{"s":"4","x":236,"y":130},
{"s":"5","x":0,"y":104},{"s":"5","x":2,"y":110},{"s":"5","x":4,"y":100},{"s":"5","x":6,"y":90},{"s":"5","x":8,"y":85},{"s":"5","x":10,"y":79},{"s":"5","x":12,"y":65},{"s":"5","x":14,"y":61},{"s":"5","x":17,"y":62},{"s":"5","x":20,"y":58},{"s":"5","x":22,"y":58},{"s":"5","x":25,"y":60},{"s":"5","x":28,"y":57},{"s":"5","x":30,"y":55},{"s":"5","x":33,"y":58},{"s":"5","x":36,"y":62},{"s":"5","x":38,"y":60},{"s":"5","x":40,"y":66},{"s":"5","x":42,"y":71},{"s":"5","x":44,"y":60},{"s":"5","x":46,"y":42},{"s":"5","x":48,"y":55},{"s":"5","x":50,"y":60},{"s":"5","x":53,"y":58},{"s":"5","x":56,"y":61},{"s":"5","x":58,"y":62},{"s":"5","x":61,"y":85},{"s":"5","x":63,"y":95},{"s":"5","x":65,"y":90},{"s":"5","x":68,"y":83},{"s":"5","x":71,"y":85},{"s":"5","x":74,"y":80},{"s":"5","x":77,"y":71},{"s":"5","x":79,"y":50},{"s":"5","x":80,"y":32},{"s":"5","x":82,"y":30},{"s":"5","x":84,"y":40},{"s":"5","x":86,"y":50},{"s":"5","x":89,"y":62},{"s":"5","x":91,"y":70},{"s":"5","x":94,"y":80},{"s":"5","x":97,"y":87},{"s":"5","x":99,"y":90},{"s":"5","x":101,"y":95},{"s":"5","x":104,"y":88},{"s":"5","x":107,"y":80},{"s":"5","x":109,"y":75},{"s":"5","x":111,"y":71},{"s":"5","x":114,"y":65},{"s":"5","x":117,"y":60},{"s":"5","x":120,"y":57},{"s":"5","x":123,"y":55},{"s":"5","x":126,"y":54},{"s":"5","x":129,"y":52},{"s":"5","x":132,"y":50},{"s":"5","x":135,"y":48},{"s":"5","x":138,"y":42},{"s":"5","x":141,"y":36},{"s":"5","x":143,"y":32},{"s":"5","x":146,"y":28},{"s":"5","x":148,"y":26},{"s":"5","x":149,"y":10},{"s":"5","x":150,"y":5},{"s":"5","x":151,"y":25},{"s":"5","x":153,"y":36},{"s":"5","x":156,"y":38},{"s":"5","x":159,"y":42},{"s":"5","x":162,"y":45},{"s":"5","x":165,"y":50},{"s":"5","x":168,"y":55},{"s":"5","x":171,"y":60},{"s":"5","x":174,"y":65},{"s":"5","x":177,"y":72},{"s":"5","x":180,"y":78},{"s":"5","x":183,"y":85},{"s":"5","x":186,"y":100},{"s":"5","x":189,"y":110},{"s":"5","x":192,"y":121},{"s":"5","x":195,"y":130},{"s":"5","x":198,"y":142},{"s":"5","x":201,"y":140},{"s":"5","x":204,"y":134},{"s":"5","x":207,"y":130},{"s":"5","x":210,"y":128},{"s":"5","x":213,"y":115},{"s":"5","x":216,"y":112},{"s":"5","x":218,"y":108},{"s":"5","x":220,"y":111},
{"s":"6","x":0,"y":100},{"s":"6","x":4,"y":90},{"s":"6","x":8,"y":75},{"s":"6","x":12,"y":85},{"s":"6","x":16,"y":80},{"s":"6","x":20,"y":95},{"s":"6","x":24,"y":100},{"s":"6","x":28,"y":110},{"s":"6","x":32,"y":118},{"s":"6","x":36,"y":125},{"s":"6","x":40,"y":130},{"s":"6","x":44,"y":134},{"s":"6","x":48,"y":125},{"s":"6","x":52,"y":140},{"s":"6","x":56,"y":145},{"s":"6","x":60,"y":135},{"s":"6","x":64,"y":150},{"s":"6","x":66,"y":168},{"s":"6","x":68,"y":160},{"s":"6","x":70,"y":145},{"s":"6","x":72,"y":160},{"s":"6","x":75,"y":150},{"s":"6","x":78,"y":140},{"s":"6","x":82,"y":130},{"s":"6","x":86,"y":120},{"s":"6","x":90,"y":112},{"s":"6","x":94,"y":100},{"s":"6","x":98,"y":95},{"s":"6","x":102,"y":90},{"s":"6","x":106,"y":85},{"s":"6","x":110,"y":80},{"s":"6","x":114,"y":70},{"s":"6","x":118,"y":60},{"s":"6","x":122,"y":55},{"s":"6","x":126,"y":50},{"s":"6","x":130,"y":45},{"s":"6","x":134,"y":40},{"s":"6","x":138,"y":35},{"s":"6","x":142,"y":30},{"s":"6","x":146,"y":45},{"s":"6","x":150,"y":40},{"s":"6","x":154,"y":45},{"s":"6","x":158,"y":35},{"s":"6","x":162,"y":30},{"s":"6","x":166,"y":35},{"s":"6","x":169,"y":31},{"s":"6","x":172,"y":28},{"s":"6","x":176,"y":25},{"s":"6","x":180,"y":24},{"s":"6","x":184,"y":35},{"s":"6","x":188,"y":50},{"s":"6","x":192,"y":63},{"s":"6","x":195,"y":67},{"s":"6","x":198,"y":68},{"s":"6","x":202,"y":66},{"s":"6","x":205,"y":62},{"s":"6","x":208,"y":60},{"s":"6","x":211,"y":55},{"s":"6","x":214,"y":51},
{"s":"7","x":0,"y":100},{"s":"7","x":2,"y":150},{"s":"7","x":4,"y":213},{"s":"7","x":7,"y":225},{"s":"7","x":10,"y":236},{"s":"7","x":13,"y":245},{"s":"7","x":17,"y":260},{"s":"7","x":20,"y":270},{"s":"7","x":23,"y":274},{"s":"7","x":26,"y":275},{"s":"7","x":28,"y":281},{"s":"7","x":32,"y":285},{"s":"7","x":36,"y":275},{"s":"7","x":40,"y":270},{"s":"7","x":44,"y":273},{"s":"7","x":48,"y":265},{"s":"7","x":52,"y":258},{"s":"7","x":56,"y":245},{"s":"7","x":60,"y":232},{"s":"7","x":64,"y":220},{"s":"7","x":68,"y":225},{"s":"7","x":72,"y":232},{"s":"7","x":76,"y":210},{"s":"7","x":80,"y":225},{"s":"7","x":84,"y":242},{"s":"7","x":88,"y":240},{"s":"7","x":92,"y":220},{"s":"7","x":95,"y":175},{"s":"7","x":98,"y":160},{"s":"7","x":101,"y":150},{"s":"7","x":104,"y":153},{"s":"7","x":108,"y":150},{"s":"7","x":112,"y":145},{"s":"7","x":116,"y":140},{"s":"7","x":120,"y":130},{"s":"7","x":124,"y":100},{"s":"7","x":127,"y":74},{"s":"7","x":130,"y":50},{"s":"7","x":133,"y":20},{"s":"7","x":135,"y":-2},{"s":"7","x":138,"y":-10},{"s":"7","x":141,"y":-21},{"s":"7","x":144,"y":-10},{"s":"7","x":147,"y":0},{"s":"7","x":150,"y":-5},{"s":"7","x":154,"y":-15},{"s":"7","x":158,"y":-25},{"s":"7","x":161,"y":-29},{"s":"7","x":164,"y":-40},{"s":"7","x":167,"y":-35},{"s":"7","x":170,"y":-25},{"s":"7","x":173,"y":-21},{"s":"7","x":176,"y":-10},{"s":"7","x":180,"y":-5},{"s":"7","x":184,"y":2},{"s":"7","x":188,"y":5},{"s":"7","x":191,"y":8},
{"s":"8","x":0,"y":100},{"s":"8","x":2,"y":160},{"s":"8","x":4,"y":230},{"s":"8","x":6,"y":255},{"s":"8","x":8,"y":266},{"s":"8","x":10,"y":250},{"s":"8","x":12,"y":245},{"s":"8","x":14,"y":220},{"s":"8","x":17,"y":210},{"s":"8","x":20,"y":200},{"s":"8","x":22,"y":190},{"s":"8","x":24,"y":205},{"s":"8","x":27,"y":230},{"s":"8","x":30,"y":255},{"s":"8","x":33,"y":266},{"s":"8","x":36,"y":275},{"s":"8","x":40,"y":292},{"s":"8","x":43,"y":270},{"s":"8","x":47,"y":262},{"s":"8","x":51,"y":265},{"s":"8","x":55,"y":270},{"s":"8","x":59,"y":260},{"s":"8","x":62,"y":270},{"s":"8","x":64,"y":279},{"s":"8","x":66,"y":250},{"s":"8","x":68,"y":220},{"s":"8","x":71,"y":200},{"s":"8","x":73,"y":180},{"s":"8","x":75,"y":166},{"s":"8","x":78,"y":190},{"s":"8","x":81,"y":210},{"s":"8","x":84,"y":230},{"s":"8","x":88,"y":250},{"s":"8","x":92,"y":267},{"s":"8","x":94,"y":220},{"s":"8","x":96,"y":180},{"s":"8","x":99,"y":165},{"s":"8","x":102,"y":155},{"s":"8","x":104,"y":153},{"s":"8","x":108,"y":145},{"s":"8","x":112,"y":140},{"s":"8","x":116,"y":130},{"s":"8","x":120,"y":110},{"s":"8","x":124,"y":90},{"s":"8","x":127,"y":67},{"s":"8","x":131,"y":45},{"s":"8","x":135,"y":28},{"s":"8","x":137,"y":-40},{"s":"8","x":140,"y":-20},{"s":"8","x":143,"y":-5},{"s":"8","x":145,"y":-10},{"s":"8","x":147,"y":50},{"s":"8","x":149,"y":10},{"s":"8","x":151,"y":15},{"s":"8","x":155,"y":-10},{"s":"8","x":158,"y":-25},{"s":"8","x":162,"y":-35},{"s":"8","x":165,"y":-50},{"s":"8","x":168,"y":-70},{"s":"8","x":171,"y":-55},{"s":"8","x":174,"y":-30},{"s":"8","x":177,"y":-20},{"s":"8","x":180,"y":-30},{"s":"8","x":184,"y":-45},{"s":"8","x":188,"y":-87},{"s":"8","x":190,"y":-70},{"s":"8","x":192,"y":-56},{"s":"8","x":194,"y":-60},{"s":"8","x":196,"y":-82},
{"s":"9","x":0,"y":100},{"s":"9","x":2,"y":60},{"s":"9","x":3,"y":30},{"s":"9","x":5,"y":50},{"s":"9","x":8,"y":40},{"s":"9","x":11,"y":10},{"s":"9","x":14,"y":-30},{"s":"9","x":15,"y":-66},{"s":"9","x":17,"y":-20},{"s":"9","x":20,"y":20},{"s":"9","x":24,"y":10},{"s":"9","x":27,"y":29},{"s":"9","x":30,"y":8},{"s":"9","x":33,"y":-16},{"s":"9","x":36,"y":0},{"s":"9","x":40,"y":40},{"s":"9","x":44,"y":71},{"s":"9","x":48,"y":100},{"s":"9","x":52,"y":150},{"s":"9","x":56,"y":192},{"s":"9","x":60,"y":180},{"s":"9","x":64,"y":200},{"s":"9","x":68,"y":215},{"s":"9","x":72,"y":232},{"s":"9","x":76,"y":215},{"s":"9","x":79,"y":200},{"s":"9","x":82,"y":245},{"s":"9","x":85,"y":230},{"s":"9","x":88,"y":180},{"s":"9","x":91,"y":150},{"s":"9","x":94,"y":120},{"s":"9","x":97,"y":90},{"s":"9","x":100,"y":60},{"s":"9","x":102,"y":45},{"s":"9","x":104,"y":-30},{"s":"9","x":105,"y":-69},{"s":"9","x":107,"y":-20},{"s":"9","x":110,"y":10},{"s":"9","x":113,"y":-8},{"s":"9","x":116,"y":-40},{"s":"9","x":119,"y":-71},{"s":"9","x":121,"y":-90},{"s":"9","x":123,"y":-116},{"s":"9","x":126,"y":-90},{"s":"9","x":130,"y":-100},{"s":"9","x":133,"y":-108},{"s":"9","x":137,"y":-112},{"s":"9","x":141,"y":-116},{"s":"9","x":143,"y":-100},{"s":"9","x":145,"y":-71},{"s":"9","x":147,"y":-60}
]
},
"hconcat": [
{
 "width": 216, "height": 754,
 "title": "HangSeng Daily Simulation",
 "data": {"name": "d"},
 "layer": [
  {"mark": {"type": "line", "strokeWidth": 1, "clip": true},
   "encoding": {
    "x": {"field": "x", "type": "quantitative", "scale": {"domain": [1.5, 107], "nice": false, "zero": false}, "axis": {"orient": "bottom", "values": [20, 40, 60, 80, 100]}},
    "y": {"field": "y", "type": "quantitative", "scale": {"domain": [-117, 675], "nice": false, "zero": false}, "axis": {"orient": "left", "values": [-100, 0, 100, 200, 300, 400, 500, 600]}},
    "color": {"field": "s", "type": "nominal", "scale": {"domain": ["2","3","4","5","6","7","8","9"], "range": ["#0000ff","#00ff00","#ff0000","#000000","#0000ff","#00ff00","#ff0000","#000000"]}, "legend": null},
    "strokeDash": {"field": "s", "type": "nominal", "scale": {"domain": ["2","3","4","5","6","7","8","9"], "range": [[1,0],[1,0],[1,0],[1,0],[1,4],[1,4],[1,4],[1,4]]}, "legend": null}
   }},
  {"mark": {"type": "point", "opacity": 0},
   "encoding": {
    "x": {"field": "x", "type": "quantitative", "scale": {"domain": [1.5, 107], "nice": false, "zero": false}, "axis": {"orient": "top", "labels": false, "values": [20, 40, 60, 80, 100]}},
    "y": {"field": "y", "type": "quantitative", "scale": {"domain": [-117, 675], "nice": false, "zero": false}, "axis": {"orient": "right", "labels": false, "values": [-100, 0, 100, 200, 300, 400, 500, 600]}}
   }}
 ],
 "resolve": {"axis": {"x": "independent", "y": "independent"}}
},
{
 "width": 216, "height": 754,
 "title": "HangSeng Sessional Simulation",
 "data": {"name": "s"},
 "layer": [
  {"mark": {"type": "line", "strokeWidth": 1, "clip": true},
   "encoding": {
    "x": {"field": "x", "type": "quantitative", "scale": {"domain": [0.8, 213.5], "nice": false, "zero": false}, "axis": {"orient": "bottom", "values": [50, 100, 150, 200]}},
    "y": {"field": "y", "type": "quantitative", "scale": {"domain": [-419, 487], "nice": false, "zero": false}, "axis": {"orient": "left", "values": [-400, -300, -200, -100, 0, 100, 200, 300, 400]}},
    "color": {"field": "s", "type": "nominal", "scale": {"domain": ["2","3","4","5","6","7","8","9"], "range": ["#0000ff","#00ff00","#ff0000","#000000","#0000ff","#00ff00","#ff0000","#000000"]}, "legend": null},
    "strokeDash": {"field": "s", "type": "nominal", "scale": {"domain": ["2","3","4","5","6","7","8","9"], "range": [[1,0],[1,0],[1,0],[1,0],[1,4],[1,4],[1,4],[1,4]]}, "legend": null}
   }},
  {"mark": {"type": "point", "opacity": 0},
   "encoding": {
    "x": {"field": "x", "type": "quantitative", "scale": {"domain": [0.8, 213.5], "nice": false, "zero": false}, "axis": {"orient": "top", "labels": false, "values": [50, 100, 150, 200]}},
    "y": {"field": "y", "type": "quantitative", "scale": {"domain": [-419, 487], "nice": false, "zero": false}, "axis": {"orient": "right", "labels": false, "values": [-400, -300, -200, -100, 0, 100, 200, 300, 400]}}
   }}
 ],
 "resolve": {"axis": {"x": "independent", "y": "independent"}}
},
{
 "width": 216, "height": 754,
 "title": "HangSeng Hourly Simulation",
 "data": {"name": "h"},
 "layer": [
  {"mark": {"type": "line", "strokeWidth": 1, "clip": true},
   "encoding": {
    "x": {"field": "x", "type": "quantitative", "scale": {"domain": [-8.3, 248.7], "nice": false, "zero": false}, "axis": {"orient": "bottom", "values": [0, 100, 200]}},
    "y": {"field": "y", "type": "quantitative", "scale": {"domain": [-303, 293.6], "nice": false, "zero": false}, "axis": {"orient": "left", "values": [-300, -200, -100, 0, 100, 200]}},
    "color": {"field": "s", "type": "nominal", "scale": {"domain": ["2","3","4","5","6","7","8","9"], "range": ["#0000ff","#00ff00","#ff0000","#000000","#0000ff","#00ff00","#ff0000","#000000"]},
      "legend": {"labelExpr": "'Zipf (' + datum.label + ',2)'", "symbolType": "M-0.2,0H9.8", "symbolSize": 130, "symbolStrokeWidth": 1, "labelOffset": 50, "labelFontSize": 19, "labelColor": "black", "rowPadding": 7, "padding": 6, "fillColor": "white", "strokeColor": "black"}},
    "strokeDash": {"field": "s", "type": "nominal", "scale": {"domain": ["2","3","4","5","6","7","8","9"], "range": [[1,0],[1,0],[1,0],[1,0],[1,4],[1,4],[1,4],[1,4]]},
      "legend": {"labelExpr": "'Zipf (' + datum.label + ',2)'", "symbolType": "M-0.2,0H9.8", "symbolSize": 130, "symbolStrokeWidth": 1, "labelOffset": 50, "labelFontSize": 19, "labelColor": "black", "rowPadding": 7, "padding": 6, "fillColor": "white", "strokeColor": "black"}}
   }},
  {"mark": {"type": "point", "opacity": 0},
   "encoding": {
    "x": {"field": "x", "type": "quantitative", "scale": {"domain": [-8.3, 248.7], "nice": false, "zero": false}, "axis": {"orient": "top", "labels": false, "values": [0, 100, 200]}},
    "y": {"field": "y", "type": "quantitative", "scale": {"domain": [-303, 293.6], "nice": false, "zero": false}, "axis": {"orient": "right", "labels": false, "values": [-300, -200, -100, 0, 100, 200]}}
   }}
 ],
 "resolve": {"axis": {"x": "independent", "y": "independent"}}
}
],
"spacing": 75,
"bounds": "flush",
"resolve": {"scale": {"x": "independent", "y": "independent", "color": "independent", "strokeDash": "independent"}, "legend": {"color": "independent", "strokeDash": "independent"}}
}
